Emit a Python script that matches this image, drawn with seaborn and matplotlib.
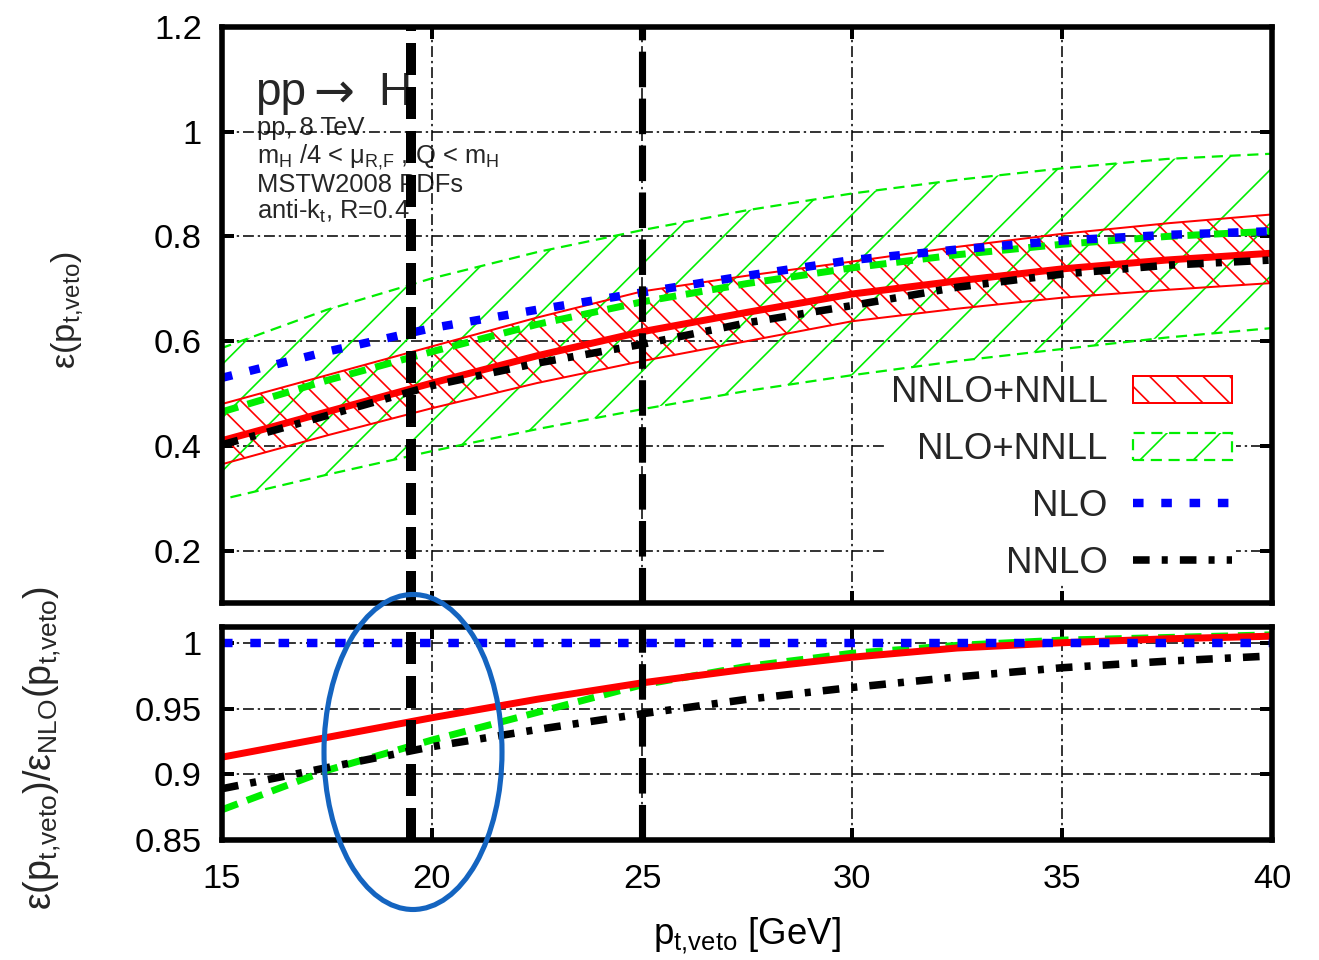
import numpy as np
import pandas as pd
import seaborn as sns
import matplotlib.pyplot as plt
from matplotlib.patches import Ellipse

# jet-veto efficiency vs pt,veto
pt_veto = [15, 17.5, 20, 22.5, 25, 27.5, 30, 32.5, 35, 37.5, 40]

# top panel: efficiencies
nnlo_nnll = [0.410, 0.465, 0.520, 0.572, 0.618, 0.655, 0.690, 0.715, 0.738, 0.755, 0.768]
nnlo_nnll_lo = [0.365, 0.420, 0.472, 0.520, 0.562, 0.600, 0.638, 0.662, 0.683, 0.698, 0.711]
nnlo_nnll_hi = [0.480, 0.535, 0.590, 0.645, 0.695, 0.725, 0.752, 0.780, 0.805, 0.825, 0.842]
nlo_nnll = [0.465, 0.525, 0.580, 0.632, 0.675, 0.710, 0.740, 0.765, 0.785, 0.800, 0.810]
nlo_nnll_lo = [0.298, 0.345, 0.390, 0.432, 0.470, 0.505, 0.535, 0.562, 0.585, 0.607, 0.625]
nlo_nnll_hi = [0.587, 0.660, 0.720, 0.770, 0.812, 0.850, 0.882, 0.908, 0.930, 0.948, 0.958]
nlo = [0.530, 0.580, 0.625, 0.660, 0.693, 0.725, 0.755, 0.775, 0.792, 0.803, 0.810]
nnlo = [0.402, 0.458, 0.515, 0.558, 0.594, 0.635, 0.668, 0.703, 0.728, 0.745, 0.755]

# bottom panel: ratio to NLO
r_nnlo_nnll = [0.913, 0.928, 0.943, 0.957, 0.9695, 0.980, 0.989, 0.996, 1.000, 1.003, 1.005]
r_nlo_nnll = [0.873, 0.903, 0.926, 0.947, 0.968, 0.982, 0.992, 0.998, 1.002, 1.004, 1.006]
r_nlo = [1.0] * 11
r_nnlo = [0.889, 0.905, 0.921, 0.934, 0.946, 0.957, 0.966, 0.974, 0.981, 0.986, 0.990]

veto_lines = [19.5, 25]

x_ticks = [15, 20, 25, 30, 35, 40]
top_yticks = [0.2, 0.4, 0.6, 0.8, 1.0, 1.2]
top_ylabels = ['0.2', '0.4', '0.6', '0.8', '1', '1.2']
bot_yticks = [0.85, 0.9, 0.95, 1.0]
bot_ylabels = ['0.85', '0.9', '0.95', '1']

top_df = pd.DataFrame({'pt': pt_veto, 'nnlo_nnll': nnlo_nnll, 'nlo_nnll': nlo_nnll,
                       'nlo': nlo, 'nnlo': nnlo})
bot_df = pd.DataFrame({'pt': pt_veto, 'nnlo_nnll': r_nnlo_nnll, 'nlo_nnll': r_nlo_nnll,
                       'nlo': r_nlo, 'nnlo': r_nnlo})

sns.set_theme(style="ticks")
plt.rcParams['font.family'] = ['Liberation Sans', 'DejaVu Sans']
plt.rcParams['mathtext.fontset'] = 'custom'
plt.rcParams['mathtext.rm'] = 'Liberation Sans'
plt.rcParams['mathtext.it'] = 'Liberation Sans'
plt.rcParams['hatch.linewidth'] = 0.75
plt.rcParams['lines.dash_capstyle'] = 'butt'
plt.rcParams['axes.linewidth'] = 2.5

DPI = 160
fig = plt.figure(figsize=(1319 / DPI, 960 / DPI), dpi=DPI)
ax1 = fig.add_axes([0.1683, 0.3719, 0.7961, 0.6])
ax2 = fig.add_axes([0.1683, 0.125, 0.7961, 0.2219])

RED, GREEN, BLUE = '#ff0000', '#00ee00', '#0000ff'
styles = {
    'nlo_nnll': dict(color=GREEN, lw=3.15, linestyle=(0, (2.4, 1.4)), zorder=2.1),
    'nnlo_nnll': dict(color=RED, lw=3.15, linestyle='-', zorder=2.2),
    'nlo': dict(color=BLUE, lw=3.8, linestyle=(0, (1.25, 2.1)), zorder=2.3),
    'nnlo': dict(color='black', lw=3.4, linestyle=(0, (2.2, 1.6, 0.8, 1.6)), zorder=2.4),
}

# uncertainty bands (top panel only)
g_band = ax1.fill_between(pt_veto, nlo_nnll_lo, nlo_nnll_hi, facecolor='none', edgecolor=GREEN,
                          hatch='/', lw=1.0, linestyle=(0, (5, 3)), zorder=1.8)
r_band = ax1.fill_between(pt_veto, nnlo_nnll_lo, nnlo_nnll_hi, facecolor='none', edgecolor=RED,
                          hatch='\\\\', lw=0.9, zorder=1.9)

for ax, df in [(ax1, top_df), (ax2, bot_df)]:
    for key in ['nlo_nnll', 'nnlo_nnll', 'nlo', 'nnlo']:
        sns.lineplot(data=df, x='pt', y=key, ax=ax, **styles[key])
    for xv, lw, ls in zip(veto_lines, [4.5, 3.2], [(0, (3.2, 1.2)), (0, (5.0, 1.6))]):
        ax.axvline(xv, color='black', lw=lw, linestyle=ls, zorder=3)
    ax.set_xlim(15, 40)
    ax.set_xticks(x_ticks)
    ax.set_axisbelow('line')
    ax.grid(True, color='black', lw=0.7, linestyle=(0, (7, 2.5, 1.5, 2.5)))
    ax.tick_params(direction='in', length=5.4, width=1.8, top=True, right=True,
                   labelsize=15.5, pad=9, colors='black')
    ax.set_xlabel('')
    ax.set_ylabel('')
    for s in ax.spines.values():
        s.set_color('black')

ax1.set_ylim(0.1, 1.2)
ax1.set_yticks(top_yticks)
ax1.set_yticklabels(top_ylabels)
ax1.tick_params(labelbottom=False)

ax2.set_ylim(0.85, 1.012)
ax2.set_yticks(bot_yticks)
ax2.set_yticklabels(bot_ylabels)
ax2.tick_params(axis='x', pad=11)
ax2.set_xlabel(r'p$_{\mathrm{t{,}veto}}$ [GeV]', fontsize=16.5, labelpad=9, color='black')

fig.text(67 / 1319, 1 - 310 / 960, r'ε(p$_{\mathrm{t{,}veto}}$)', rotation=90,
         ha='center', va='center', fontsize=15.5)
fig.text(42 / 1319, 1 - 748 / 960,
         r'ε(p$_{\mathrm{t{,}veto}}$)/ε$_{\mathrm{NLO}}$(p$_{\mathrm{t{,}veto}}$)', rotation=90,
         ha='center', va='center', fontsize=17)

# process annotation
ax1.text(0.031, 0.865, 'pp', transform=ax1.transAxes, fontsize=20.7,
         va='baseline', ha='left', zorder=1)
ax1.text(0.087, 0.887, '→', transform=ax1.transAxes, fontsize=22,
         va='center', ha='left', zorder=1, family=['DejaVu Sans'])
ax1.text(0.149, 0.865, 'H', transform=ax1.transAxes, fontsize=20.7,
         va='baseline', ha='left', zorder=1)
info = ['pp, 8 TeV',
        r'm$_\mathrm{H}$ /4 < μ$_\mathrm{R{,}F}$ , Q < m$_\mathrm{H}$',
        'MSTW2008 PDFs',
        r'anti-k$_\mathrm{t}$, R=0.4']
for line, yy in zip(info, [0.825, 0.774, 0.726, 0.679]):
    ax1.text(0.033, yy, line, transform=ax1.transAxes, fontsize=11.5,
             va='center', ha='left', zorder=1)

# legend (labels before handles, gnuplot style)
h_lines = ax1.get_lines()
handles = [r_band, g_band, h_lines[2], h_lines[3]]
labels = ['NNLO+NNLL', 'NLO+NNLL', 'NLO', 'NNLO']
leg = ax1.legend(handles, labels, loc='lower right', bbox_to_anchor=(0.9657, 0.031),
                 markerfirst=False, fontsize=16.5, handlelength=2.7, handleheight=0.75,
                 handletextpad=0.7, labelspacing=0.6, borderpad=0.1, borderaxespad=0,
                 frameon=True, fancybox=False, framealpha=1, edgecolor='none',
                 facecolor='white')
leg.set_zorder(2.9)

# hand-drawn highlight ellipse
ell = Ellipse((413 / 1319, 1 - 752 / 960), 178 / 1319, 315 / 960, transform=fig.transFigure,
              fill=False, edgecolor='#1464c0', lw=2.3, zorder=10)
fig.add_artist(ell)

fig.savefig('out.png', dpi=DPI)
